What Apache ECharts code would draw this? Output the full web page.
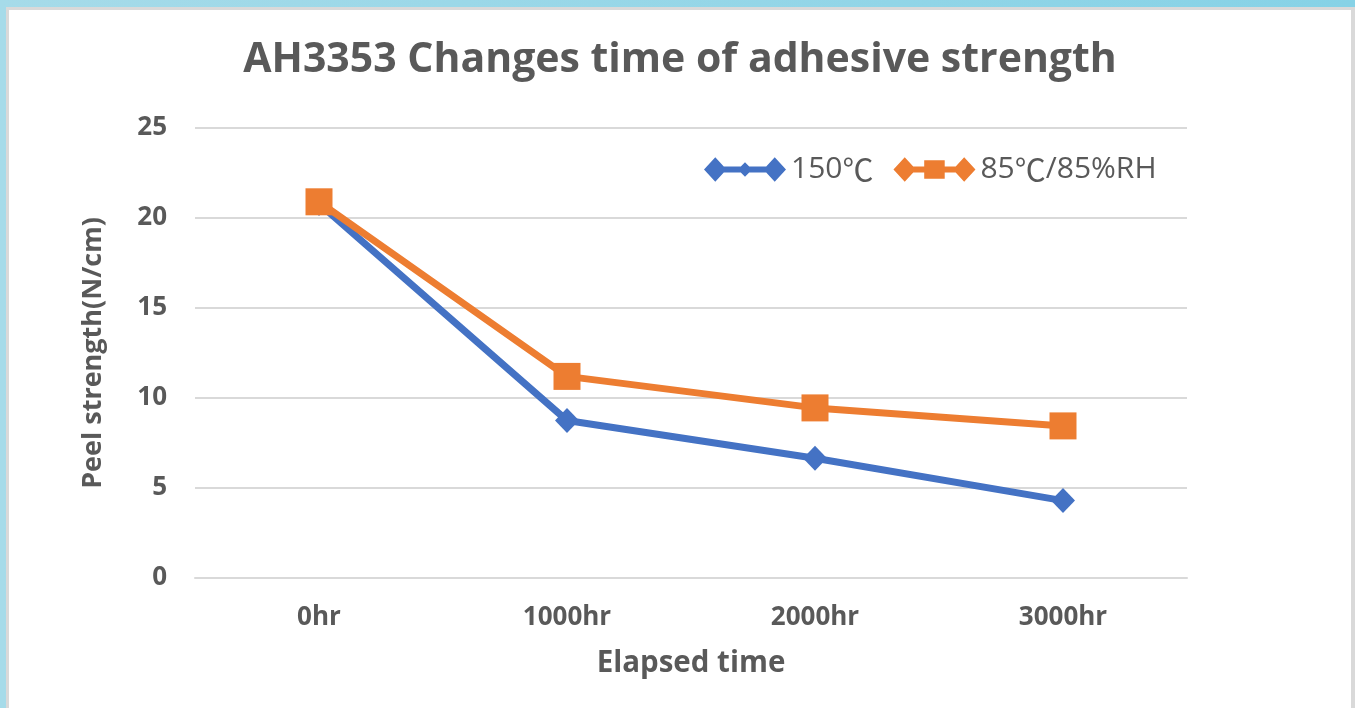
<!DOCTYPE html>
<html>
<head>
<meta charset="utf-8">
<script src="https://cdn.jsdelivr.net/npm/echarts@6/dist/echarts.min.js"></script>
<style>
  html, body { margin: 0; padding: 0; width: 1355px; height: 708px; overflow: hidden;
    background: linear-gradient(to right, #a6dbe9, #86d2e6); }
  #frame { position: absolute; left: 6px; top: 7px; width: 1349px; height: 701px; background: #d9d9d9; }
  #chart { position: absolute; left: 9px; top: 10px; width: 1342px; height: 698px; background: #fff; }
</style>
</head>
<body>
<div id="frame"></div>
<div id="chart"></div>
<script>
const categories = ['0hr', '1000hr', '2000hr', '3000hr'];
const series150 = [20.8, 8.75, 6.65, 4.3];
const series85 = [20.9, 11.2, 9.45, 8.45];
const seriesNames = ['150℃', '85℃/85%RH'];
const yTicks = { min: 0, max: 25, interval: 5 };

const FONT = '"Open Sans", "Noto Sans CJK SC", sans-serif';
const CJK = '"Noto Sans CJK SC", sans-serif';
const GREY = '#595959';

const blueIcon = 'path://M0 12 L11 0 L22 12 L11 24 Z M33 12 L40 5 L47 12 L40 19 Z M58 12 L69 0 L80 12 L69 24 Z M11 9 L69 9 L69 15 L11 15 Z';
const orangeIcon = 'path://M0 12 L11 0 L22 12 L11 24 Z M30 3 L50 3 L50 21 L30 21 Z M58 12 L69 0 L80 12 L69 24 Z M11 9 L69 9 L69 15 L11 15 Z';

const chart = echarts.init(document.getElementById('chart'), null, { renderer: 'canvas' });
chart.setOption({
  animation: false,
  textStyle: { fontFamily: FONT },
  title: {
    text: 'AH3353 Changes time of adhesive strength',
    left: 'center',
    top: 25,
    textStyle: { fontFamily: FONT, fontSize: 41, fontWeight: 'bold', color: GREY }
  },
  legend: {
    left: 690,
    top: 139,
    itemWidth: 82,
    itemHeight: 25,
    itemGap: 20,
    formatter: function (name) {
      return name.split('℃').join('{c|℃}');
    },
    textStyle: {
      fontFamily: FONT, fontSize: 30, color: GREY,
      rich: { c: { fontFamily: CJK, fontSize: 31, color: GREY } }
    },
    data: [
      { name: seriesNames[0], icon: blueIcon },
      { name: seriesNames[1], icon: orangeIcon }
    ]
  },
  grid: { left: 186, top: 118, width: 992, height: 450 },
  xAxis: {
    type: 'category',
    data: categories,
    boundaryGap: true,
    name: 'Elapsed time',
    nameLocation: 'middle',
    nameGap: 71,
    nameTextStyle: { fontFamily: FONT, fontSize: 29.5, fontWeight: 'bold', color: GREY, verticalAlign: 'top' },
    axisLine: { lineStyle: { color: '#d9d9d9', width: 2 } },
    axisTick: { show: false },
    axisLabel: { margin: 27, fontFamily: FONT, fontSize: 26, fontWeight: 'bold', color: GREY }
  },
  yAxis: {
    type: 'value',
    min: yTicks.min, max: yTicks.max, interval: yTicks.interval,
    name: 'Peel strength(N/cm)',
    nameLocation: 'middle',
    nameGap: 88,
    nameTextStyle: { fontFamily: FONT, fontSize: 27, fontWeight: 'bold', color: GREY },
    axisLine: { show: false },
    axisTick: { show: false },
    axisLabel: { margin: 28, fontFamily: FONT, fontSize: 26, fontWeight: 'bold', color: GREY },
    splitLine: { lineStyle: { color: '#d9d9d9', width: 2 } }
  },
  series: [
    {
      name: seriesNames[0],
      type: 'line',
      data: series150,
      symbol: 'diamond',
      symbolSize: [24, 25],
      lineStyle: { color: '#4472C4', width: 7 },
      itemStyle: { color: '#4472C4' },
      z: 2
    },
    {
      name: seriesNames[1],
      type: 'line',
      data: series85,
      symbol: 'rect',
      symbolSize: 27,
      lineStyle: { color: '#ED7D31', width: 7 },
      itemStyle: { color: '#ED7D31' },
      z: 3
    }
  ]
});
</script>
</body>
</html>
